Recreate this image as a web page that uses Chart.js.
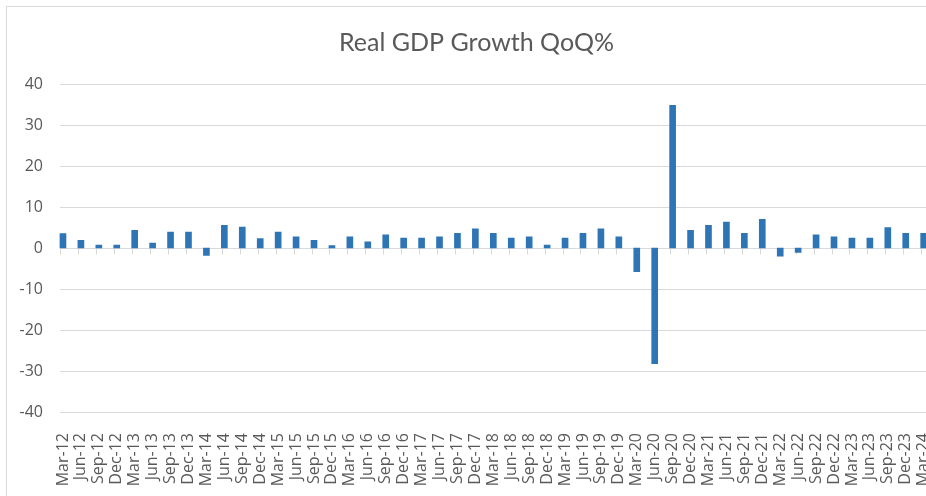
<!DOCTYPE html>
<html>
<head>
<meta charset="utf-8">
<script src="https://cdn.jsdelivr.net/npm/chart.js@4.4.1/dist/chart.umd.min.js"></script>
<style>
  html, body { margin: 0; padding: 0; background: #ffffff; overflow: hidden; }
  #wrap { position: absolute; left: 0; top: 0; width: 956px; height: 496px; }
  #frame { position: absolute; left: 6px; top: 6px; width: 960px; height: 500px;
           border-left: 1px solid #d9d9d9; border-top: 1px solid #d9d9d9; pointer-events: none; }
</style>
</head>
<body>
<div id="wrap"><canvas id="c" width="956" height="496"></canvas></div>
<div id="frame"></div>
<script>
const quarters = [
  "Mar-12","Jun-12","Sep-12","Dec-12",
  "Mar-13","Jun-13","Sep-13","Dec-13",
  "Mar-14","Jun-14","Sep-14","Dec-14",
  "Mar-15","Jun-15","Sep-15","Dec-15",
  "Mar-16","Jun-16","Sep-16","Dec-16",
  "Mar-17","Jun-17","Sep-17","Dec-17",
  "Mar-18","Jun-18","Sep-18","Dec-18",
  "Mar-19","Jun-19","Sep-19","Dec-19",
  "Mar-20","Jun-20","Sep-20","Dec-20",
  "Mar-21","Jun-21","Sep-21","Dec-21",
  "Mar-22","Jun-22","Sep-22","Dec-22",
  "Mar-23","Jun-23","Sep-23","Dec-23",
  "Mar-24"
];
const gdpGrowthQoQ = [
  3.5, 1.9, 0.7, 0.7,
  4.3, 1.2, 3.9, 3.9,
  -1.8, 5.5, 5.1, 2.3,
  3.9, 2.7, 1.9, 0.6,
  2.7, 1.5, 3.2, 2.4,
  2.4, 2.7, 3.6, 4.7,
  3.6, 2.4, 2.7, 0.7,
  2.4, 3.6, 4.7, 2.7,
  -5.8, -28.2, 34.8, 4.3,
  5.5, 6.3, 3.6, 7.0,
  -2.0, -1.1, 3.2, 2.7,
  2.4, 2.4, 5.0, 3.6,
  3.6
];
const yTicks = [-40, -30, -20, -10, 0, 10, 20, 30, 40];
const chartTitle = "Real GDP Growth QoQ%";

const gridColor = "#d9d9d9";
const textColor = "#595959";

const excelGrid = {
  id: "excelGrid",
  beforeDatasetsDraw(chart) {
    const { ctx, chartArea, scales } = chart;
    const y = scales.y, x = scales.x;
    ctx.save();
    ctx.strokeStyle = gridColor;
    ctx.lineWidth = 1;
    yTicks.forEach(v => {
      const py = Math.round(y.getPixelForValue(v)) + 0.5;
      ctx.beginPath();
      ctx.moveTo(chartArea.left + 6, py);
      ctx.lineTo(chart.width, py);
      ctx.stroke();
    });
    const y0 = Math.round(y.getPixelForValue(0)) + 0.5;
    quarters.forEach((q, i) => {
      const px = Math.round(x.getPixelForValue(i) - 2.5) + 0.5;
      ctx.beginPath();
      ctx.moveTo(px, y0);
      ctx.lineTo(px, y0 + 6);
      ctx.stroke();
    });
    ctx.restore();
  }
};

new Chart(document.getElementById("c"), {
  type: "bar",
  data: {
    labels: quarters,
    datasets: [{
      label: "Real GDP Growth QoQ%",
      data: gdpGrowthQoQ,
      backgroundColor: "#2E75B6",
      borderWidth: 0,
      barThickness: 6
    }]
  },
  options: {
    responsive: false,
    animation: false,
    devicePixelRatio: 1,
    layout: { padding: { left: 10, right: 13, top: 0, bottom: 0 } },
    plugins: {
      legend: { display: false },
      tooltip: { enabled: false },
      title: {
        display: true,
        text: chartTitle,
        color: textColor,
        font: { family: "Lato", size: 25, weight: "normal" },
        padding: { top: 28, bottom: 26 }
      }
    },
    scales: {
      x: {
        offset: true,
        grid: { display: false },
        border: { display: false },
        ticks: {
          autoSkip: false,
          maxRotation: 90,
          minRotation: 90,
          padding: 13,
          color: textColor,
          font: { family: "Open Sans", size: 16 }
        },
        afterFit(scale) { scale.height = 84; }
      },
      y: {
        min: -40,
        max: 40,
        grid: { display: false, drawTicks: false },
        border: { display: false },
        ticks: {
          stepSize: 10,
          padding: 11,
          color: textColor,
          font: { family: "Open Sans", size: 16 }
        },
        afterFit(scale) { scale.width = 44; }
      }
    }
  },
  plugins: [excelGrid]
});
</script>
</body>
</html>
